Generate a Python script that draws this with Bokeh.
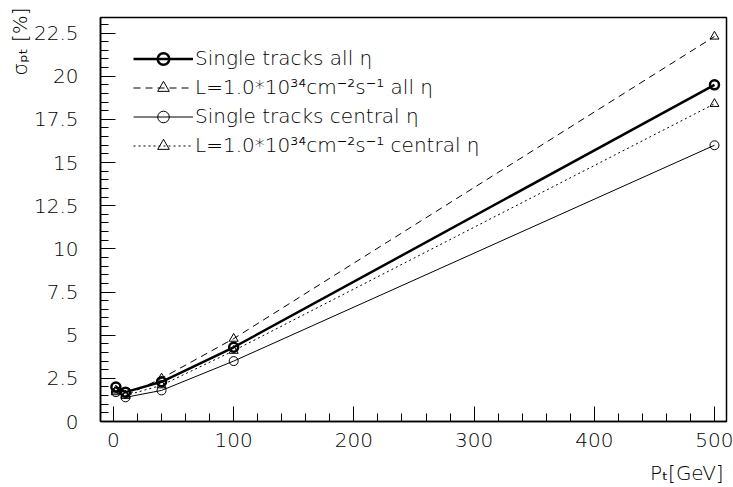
import math
from bokeh.plotting import figure
from bokeh.models import (Range1d, SingleIntervalTicker, CustomJSTickFormatter,
                          Legend, LegendItem)
from bokeh.embed import file_html
from bokeh.resources import INLINE

# ---- data ----
pt = [2, 10, 40, 100, 500]
single_all = [2.0, 1.7, 2.3, 4.3, 19.5]
lumi_all = [1.8, 1.5, 2.5, 4.8, 22.3]
single_central = [1.7, 1.4, 1.8, 3.5, 16.0]
lumi_central = [1.7, 1.5, 2.1, 4.1, 18.4]

series_labels = [
    "Single tracks all η",
    "L=1.0*10³⁴cm⁻²s⁻¹ all η",
    "Single tracks central η",
    "L=1.0*10³⁴cm⁻²s⁻¹ central η",
]
x_title = "Pₜ[GeV]"
y_title = "σₚₜ [%]"

x_tick_interval = 100
y_tick_interval = 2.5

# ---- layout ----
FONT = "'DejaVu Sans Light', 'DejaVu Sans', sans-serif"
NBSP = "\u00a0"
X0, X1 = -10.8, 510.0
Y0, Y1 = 0.0, 23.4
W, H = 733, 487
L, R, T, B = 100, 7, 17, 65

p = figure(width=W, height=H, x_range=Range1d(X0, X1), y_range=Range1d(Y0, Y1),
           output_backend="svg", toolbar_location=None,
           min_border_left=L, min_border_right=R, min_border_top=T, min_border_bottom=B)
p.xgrid.visible = False
p.ygrid.visible = False
p.outline_line_color = "black"
p.outline_line_width = 1.5
p.background_fill_color = "white"
p.border_fill_color = "white"

p.xaxis.ticker = SingleIntervalTicker(interval=x_tick_interval, num_minor_ticks=5)
p.yaxis.ticker = SingleIntervalTicker(interval=y_tick_interval, num_minor_ticks=5)
for ax in (p.xaxis[0], p.yaxis[0]):
    ax.axis_line_color = "black"
    ax.axis_line_width = 1.5
    ax.major_tick_in = 15
    ax.major_tick_out = 0
    ax.minor_tick_in = 8
    ax.minor_tick_out = 0
    ax.major_tick_line_color = "black"
    ax.minor_tick_line_color = "black"
    ax.major_label_text_font = FONT
    ax.major_label_text_font_size = "20px"
    ax.major_label_text_color = "black"
    ax.formatter = CustomJSTickFormatter(code="return String(tick);")
    ax.axis_label_text_font = FONT
    ax.axis_label_text_font_size = "20px"
    ax.axis_label_text_font_style = "normal"
    ax.axis_label_text_color = "black"
    ax.axis_label_align = "center"
p.xaxis.major_label_standoff = 11
p.yaxis.major_label_standoff = 22
# leading no-break spaces push the centred titles to the far end of each axis
p.xaxis.axis_label = NBSP * 86 + x_title
p.yaxis.axis_label = NBSP * 56 + y_title
p.xaxis.axis_label_standoff = 11
p.yaxis.axis_label_standoff = -1

# ---- series ----
r1l = p.line(pt, single_all, line_color="black", line_width=2.5)
r1m = p.scatter(pt, single_all, marker="circle", size=9, line_color="black",
                line_width=2.5, fill_color=None)
r2l = p.line(pt, lumi_all, line_color="black", line_width=1, line_dash="7 5")
r2m = p.scatter(pt, lumi_all, marker="triangle", size=9, line_color="black",
                line_width=1, fill_color=None)
r3l = p.line(pt, single_central, line_color="black", line_width=1)
r3m = p.scatter(pt, single_central, marker="circle", size=9, line_color="black",
                line_width=1, fill_color=None)
r4l = p.line(pt, lumi_central, line_color="black", line_width=1, line_dash="2 3")
r4m = p.scatter(pt, lumi_central, marker="triangle", size=9, line_color="black",
                line_width=1, fill_color=None)

legend = Legend(
    items=[
        LegendItem(label=series_labels[0], renderers=[r1l, r1m]),
        LegendItem(label=series_labels[1], renderers=[r2l, r2m]),
        LegendItem(label=series_labels[2], renderers=[r3l, r3m]),
        LegendItem(label=series_labels[3], renderers=[r4l, r4m]),
    ],
    location=(33, 261.5), glyph_width=60, glyph_height=29, label_height=29,
    spacing=0, padding=0, margin=0, label_standoff=2,
    border_line_color=None, background_fill_alpha=0,
    label_text_font=FONT, label_text_font_size="20px",
    label_text_baseline="alphabetic", label_text_color="black",
)
p.add_layout(legend)

open("out.html", "w").write(file_html(p, INLINE))
